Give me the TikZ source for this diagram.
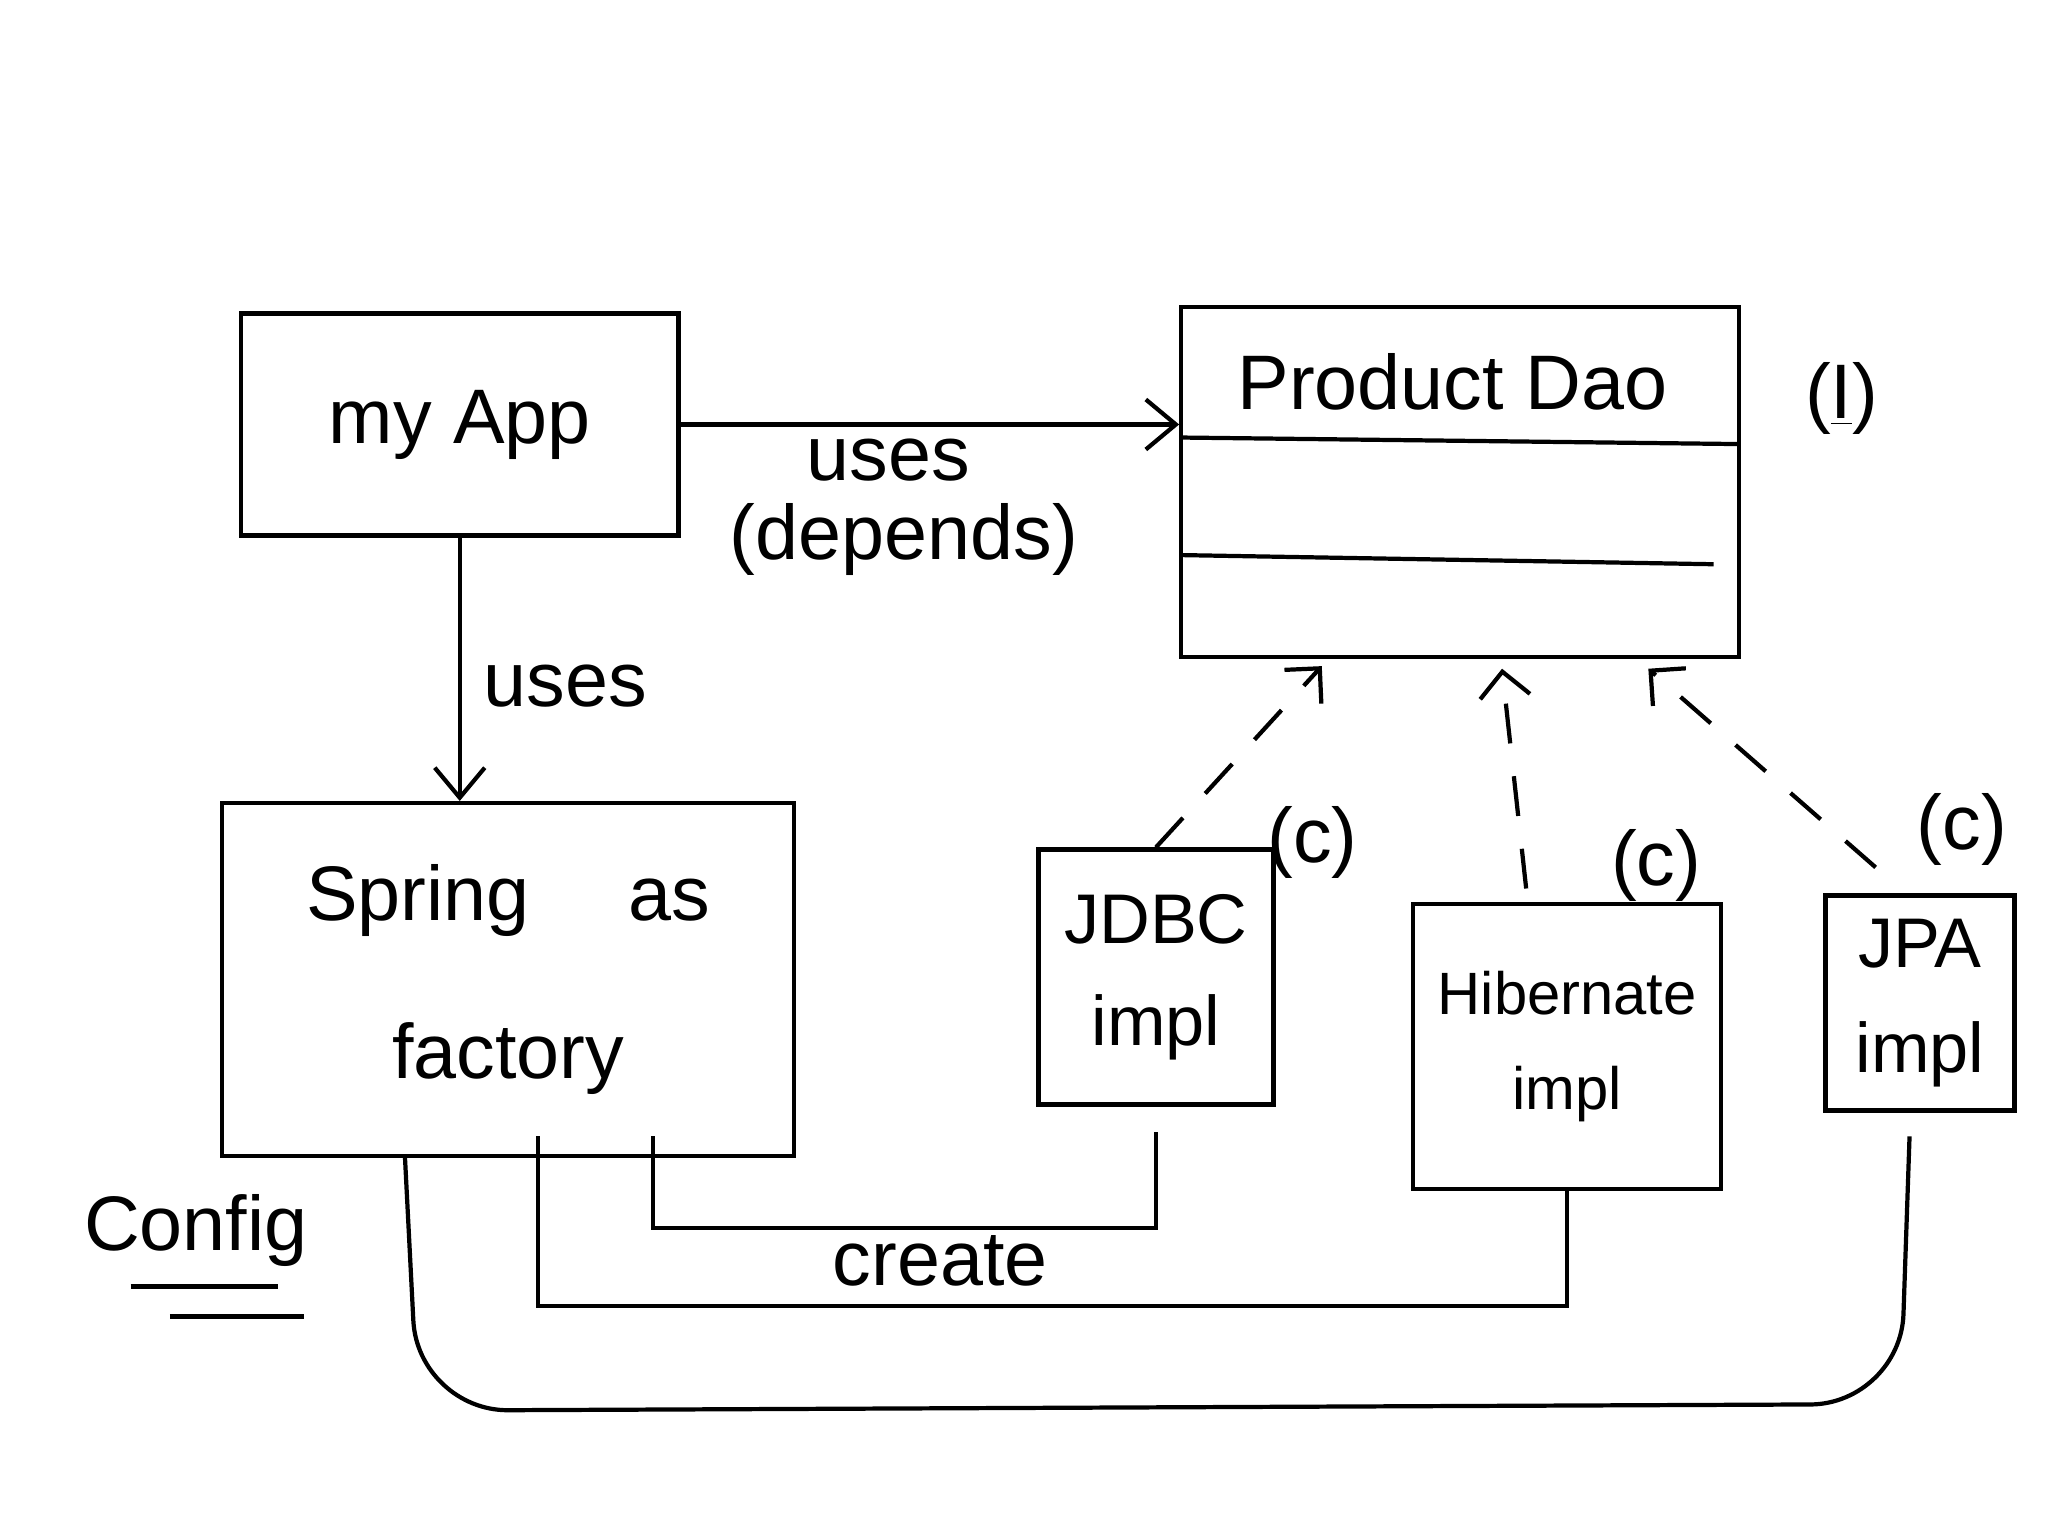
\documentclass[tikz,border=0pt]{standalone}
\usepackage{fontspec}
\setmainfont{Liberation Sans}
\usetikzlibrary{arrows.meta}

\tikzset{
    box/.style={draw, line width=1.2pt, rectangle, align=center},
    link/.style={line width=1.2pt, -{Straight Barb[length=3mm,width=5mm]}},
    realize/.style={line width=1.2pt, dash pattern=on 0.4cm off 0.33cm,
	-{Straight Barb[length=2.5mm,width=5mm]}},
    create/.style={line width=1.2pt},
    hand/.style={font=\fontsize{22}{45}\selectfont}
}

\begin{document}
\begin{tikzpicture}[x=0.01306cm, y=-0.01306cm, every node/.style={hand}]
    \useasboundingbox (0, 0) rectangle (1568, 1176);

    \node [box, minimum width=4.375cm, minimum height=2.22cm] (app) at (352, 325) {my App};
    \node [box, minimum width=5.58cm, minimum height=3.5cm] (dao) at (1118, 369) {};
    \node (daoname) at (1112, 292) {Product Dao};
    \node (iface) at (1410, 305) {(\underline{I})};
    \draw [line width=1.2pt] (905, 335) -- (1332, 340);
    \draw [line width=1.2pt] (905, 425) -- (1312, 432);

    \node [box, minimum width=5.72cm, minimum height=3.53cm] (spring) at (389, 750)
	{Spring\quad\ as\\factory};
    \node (config) at (150, 942) {Config};
    \draw [line width=1.2pt] (100, 985) -- (213, 985);
    \draw [line width=1.2pt] (130, 1008) -- (233, 1008);

    \node [box, minimum width=2.35cm, minimum height=2.55cm,
	font=\fontsize{20}{29}\selectfont] (jdbc) at (885, 748) {JDBC\\impl};
    \node [box, minimum width=3.08cm, minimum height=2.85cm,
	font=\fontsize{17}{27}\selectfont] (hib) at (1200, 801) {Hibernate\\impl};
    \node [box, minimum width=1.89cm, minimum height=2.15cm,
	font=\fontsize{20}{30}\selectfont] (jpa) at (1470, 768) {JPA\\impl};
    \node (c1) at (1005, 645) {(c)};
    \node (c2) at (1268, 663) {(c)};
    \node (c3) at (1502, 635) {(c)};

    % uses
    \draw [link] (app.east) -- (dao.west |- app.east);
    \node (depuses) at (680, 352) {uses};
    \node (depends) at (692, 413) {(depends)};
    \draw [link] (app.south) -- (spring.north -| app.south);
    \node (springuses) at (433, 525) {uses};

    % implements
    \coordinate (r1) at (1012, 510);
    \coordinate (r2) at (1150, 512);
    \coordinate (r3) at (1262, 512);
    \draw [realize] (jdbc.north) -- (r1);
    \draw [realize] (hib.north west) ++(88, -10) -- (r2);
    \draw [realize] (jpa.north west) ++(40, -20) -- (r3);

    % create
    \coordinate (s1) at (500, 870);
    \coordinate (s2) at (412, 870);
    \coordinate (s3) at (310, 885);
    \draw [create, shorten >=0.25cm] (s1) -- ++(0, 70) -| (jdbc.south);
    \draw [create] (s2) -- ++(0, 130) -| (hib.south);
    \draw [create, rounded corners=0.9cm] (s3) -- (320, 1080) -- (1455, 1075)
	-- (1462, 870);
    \node (create) at (720, 965) {create};
\end{tikzpicture}
\end{document}
